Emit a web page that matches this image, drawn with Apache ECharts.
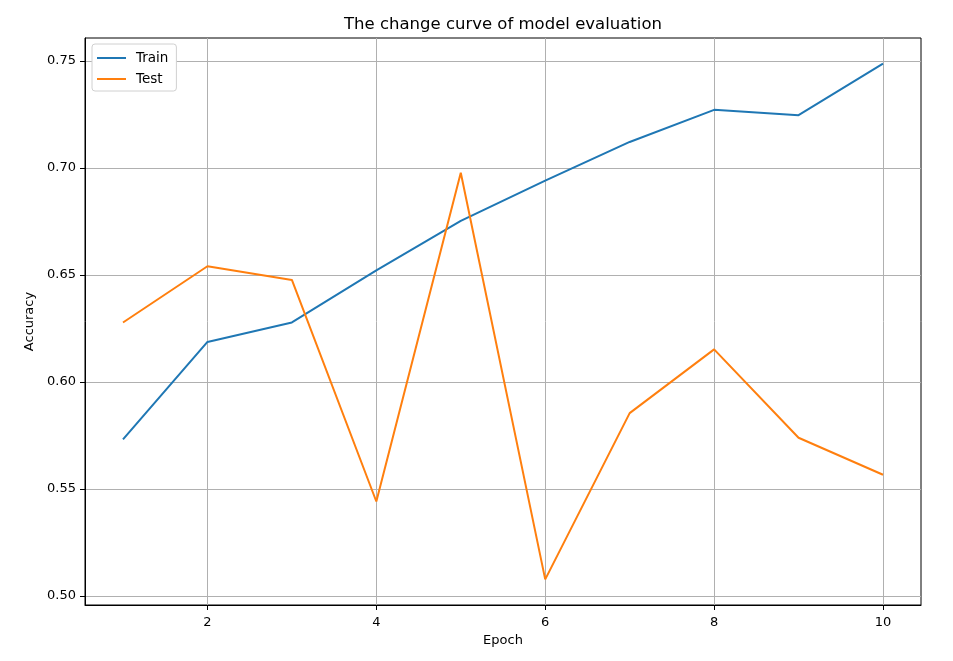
<!DOCTYPE html>
<html>
<head>
<meta charset="utf-8">
<script src="https://cdn.jsdelivr.net/npm/echarts@6/dist/echarts.min.js"></script>
<style>html,body{margin:0;padding:0;background:#fff;}#c{width:953px;height:661px;}</style>
</head>
<body>
<div id="c"></div>
<script>
const epochs = [1, 2, 3, 4, 5, 6, 7, 8, 9, 10];
const trainAcc = [0.5731, 0.6187, 0.6278, 0.6522, 0.6753, 0.6941, 0.7122, 0.7272, 0.7247, 0.7488];
const testAcc = [0.6278, 0.6541, 0.6477, 0.5441, 0.6978, 0.5077, 0.5854, 0.6152, 0.5739, 0.5566];
const xTicks = [2, 4, 6, 8, 10];
const yTicks = [0.50, 0.55, 0.60, 0.65, 0.70, 0.75];

const font = 'DejaVu Sans';
const chart = echarts.init(document.getElementById('c'), null, {renderer: 'canvas'});
chart.setOption({
  animation: false,
  backgroundColor: '#fff',
  title: {
    text: 'The change curve of model evaluation',
    left: 339, top: 11,
    textStyle: {fontFamily: font, fontSize: 16.5, fontWeight: 'normal', color: '#000'}
  },
  legend: {
    orient: 'vertical', left: 92, top: 44,
    padding: [7, 8, 5, 5],
    itemWidth: 29, itemHeight: 2, itemGap: 7,
    icon: 'rect',
    backgroundColor: '#fff', borderColor: '#d0d0d0', borderWidth: 1, borderRadius: 3,
    textStyle: {fontFamily: font, fontSize: 13.5, color: '#000', padding: [0, 0, 0, 5]},
    data: ['Train', 'Test']
  },
  grid: {left: 85, right: 32, top: 38, bottom: 56, show: true, borderColor: '#000', borderWidth: 1},
  xAxis: {
    type: 'value', min: 0.55, max: 10.45,
    name: 'Epoch', nameLocation: 'middle', nameGap: 29,
    nameTextStyle: {fontFamily: font, fontSize: 13, color: '#000'},
    axisLine: {show: true, lineStyle: {color: '#000', width: 1}},
    axisTick: {show: true, length: 5, customValues: xTicks, lineStyle: {color: '#000'}},
    axisLabel: {customValues: xTicks, fontFamily: font, fontSize: 13, color: '#000', margin: 11},
    splitLine: {show: true, lineStyle: {color: '#b0b0b0', width: 1}}
  },
  yAxis: {
    type: 'value', min: 0.4957, max: 0.7608,
    name: 'Accuracy', nameLocation: 'middle', nameGap: 48, nameRotate: 90,
    nameTextStyle: {fontFamily: font, fontSize: 13, color: '#000'},
    axisLine: {show: true, lineStyle: {color: '#000', width: 1}},
    axisTick: {show: true, length: 5, customValues: yTicks, lineStyle: {color: '#000'}},
    axisLabel: {customValues: yTicks, fontFamily: font, fontSize: 13, color: '#000', margin: 9,
      formatter: v => v.toFixed(2)},
    splitLine: {show: true, lineStyle: {color: '#b0b0b0', width: 1}}
  },
  series: [
    {name: 'Train', type: 'line', symbol: 'none', color: '#1f77b4',
     lineStyle: {width: 2, color: '#1f77b4'},
     data: epochs.map((e, i) => [e, trainAcc[i]])},
    {name: 'Test', type: 'line', symbol: 'none', color: '#ff7f0e',
     lineStyle: {width: 2, color: '#ff7f0e'},
     data: epochs.map((e, i) => [e, testAcc[i]])}
  ]
});
</script>
</body>
</html>
